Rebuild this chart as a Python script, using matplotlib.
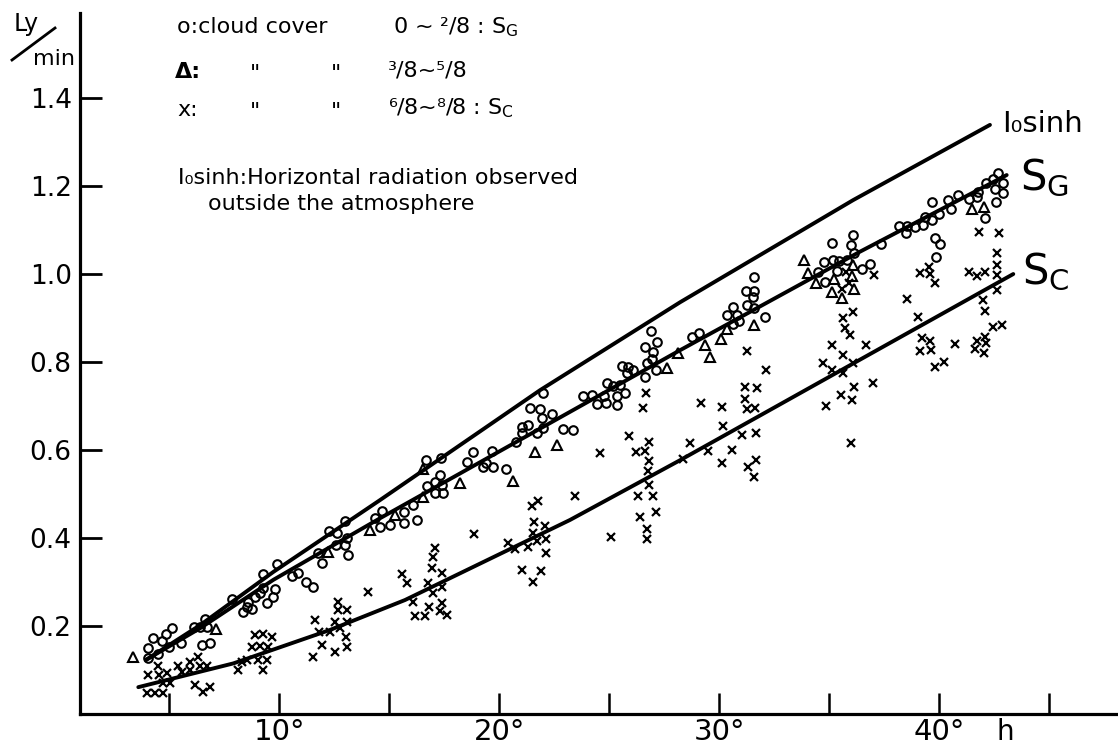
import matplotlib
matplotlib.use("Agg")
import matplotlib.pyplot as plt
from matplotlib.lines import Line2D

# solar altitude h (deg) / radiation (Ly/min)
# o : cloud cover 0 - 2/8
circles = [(4.02, 0.149), (4.25, 0.173), (4.65, 0.166), (4.84, 0.182), (5.11, 0.196), (4.05, 0.127),
           (4.5, 0.136), (4.99, 0.153), (5.53, 0.162), (6.14, 0.198), (6.4, 0.198), (6.62, 0.215),
           (6.73, 0.197), (6.47, 0.157), (6.85, 0.162), (7.84, 0.261), (8.36, 0.231), (8.52, 0.244),
           (8.75, 0.238), (8.59, 0.255), (8.9, 0.267), (9.12, 0.274), (9.27, 0.286), (9.43, 0.253),
           (9.73, 0.265), (9.8, 0.283), (9.27, 0.318), (9.91, 0.34), (10.56, 0.314), (10.86, 0.321),
           (11.21, 0.301), (11.55, 0.289), (11.77, 0.365), (11.93, 0.344), (12.27, 0.417), (12.64, 0.411),
           (12.99, 0.438), (12.58, 0.384), (12.99, 0.383), (13.14, 0.361), (13.06, 0.399), (14.35, 0.445),
           (14.65, 0.462), (14.58, 0.426), (15.03, 0.43),
           (15.67, 0.435), (15.67, 0.46), (16.09, 0.475), (16.27, 0.441), (16.65, 0.577), (17.35, 0.583),
           (16.7, 0.518), (17.08, 0.528), (17.3, 0.543), (17.38, 0.52), (17.08, 0.502), (17.45, 0.502),
           (18.52, 0.573), (18.79, 0.595), (19.25, 0.562), (19.4, 0.571), (19.68, 0.598), (19.73, 0.562),
           (20.3, 0.558), (20.76, 0.619), (21.02, 0.653), (21.32, 0.657), (21.02, 0.638), (21.4, 0.695),
           (21.85, 0.693), (21.93, 0.672), (22.38, 0.682), (21.7, 0.638), (22.0, 0.649), (21.97, 0.729),
           (22.88, 0.647), (23.36, 0.645), (23.82, 0.723), (24.2, 0.725), (24.43, 0.705), (24.76, 0.723),
           (24.88, 0.752), (24.85, 0.706), (25.18, 0.745), (25.49, 0.748), (25.34, 0.723), (25.71, 0.729),
           (25.36, 0.702), (25.56, 0.791), (25.86, 0.789), (26.09, 0.782), (25.79, 0.776), (26.88, 0.871),
           (27.15, 0.846), (26.62, 0.835), (27.0, 0.823), (26.7, 0.797), (26.93, 0.808), (27.12, 0.783),
           (26.62, 0.765),
           (28.75, 0.858), (29.09, 0.865), (30.36, 0.907), (30.64, 0.926), (30.82, 0.907), (30.91, 0.894),
           (30.61, 0.886), (31.25, 0.93), (31.21, 0.962), (31.58, 0.962), (31.55, 0.947), (31.58, 0.994),
           (31.58, 0.922), (32.08, 0.902), (35.11, 1.07), (34.76, 1.028), (35.15, 1.033), (35.45, 1.03),
           (35.79, 1.032), (36.06, 1.089), (35.97, 1.066), (36.12, 1.048), (35.34, 1.008), (36.47, 1.011),
           (36.85, 1.023), (37.34, 1.068), (34.5, 1.005), (34.8, 0.983), (38.18, 1.109), (38.52, 1.109),
           (38.49, 1.093),
           (38.9, 1.108), (39.27, 1.111), (39.35, 1.13), (39.65, 1.123), (39.65, 1.164), (40.0, 1.136),
           (40.41, 1.168), (40.52, 1.147), (40.86, 1.18), (41.36, 1.17), (41.7, 1.176), (41.77, 1.187),
           (42.12, 1.208), (42.45, 1.215), (42.53, 1.193), (42.68, 1.229), (42.88, 1.206), (42.91, 1.185),
           (42.58, 1.164), (42.08, 1.128), (39.8, 1.081), (40.03, 1.068), (39.85, 1.039)]

# triangles : cloud cover 3/8 - 5/8
triangles = [(3.37, 0.129), (7.12, 0.193), (12.23, 0.369), (14.12, 0.418), (15.26, 0.452), (16.55, 0.556),
             (16.55, 0.494), (18.21, 0.526), (20.64, 0.53), (21.62, 0.596), (22.61, 0.611), (27.61, 0.787),
             (28.14, 0.82), (29.35, 0.839), (29.58, 0.811), (30.06, 0.852), (30.34, 0.874), (31.58, 0.884),
             (33.85, 1.032), (34.05, 1.003), (34.4, 0.98), (35.21, 0.988), (35.11, 0.96), (35.56, 0.945),
             (36.06, 1.02), (36.02, 0.995), (36.12, 0.965), (41.47, 1.147), (42.03, 1.152)]

# x : cloud cover 6/8 - 8/8
crosses = [(4.05, 0.089), (4.5, 0.108), (4.55, 0.089), (4.88, 0.093), (5.03, 0.07), (4.73, 0.07),
           (3.97, 0.047), (4.35, 0.047), (4.73, 0.047), (5.41, 0.108), (5.56, 0.096), (5.94, 0.119),
           (5.94, 0.1), (6.32, 0.13), (6.4, 0.108), (6.7, 0.108), (6.17, 0.066), (6.55, 0.051),
           (6.85, 0.062), (8.14, 0.1), (8.29, 0.119), (8.52, 0.123), (8.9, 0.18), (9.27, 0.182),
           (9.65, 0.176), (8.75, 0.153), (9.12, 0.155), (9.5, 0.153), (9.05, 0.123), (9.43, 0.123),
           (9.27, 0.1), (11.55, 0.13), (11.93, 0.157), (11.62, 0.214), (11.82, 0.187), (12.3, 0.187),
           (12.53, 0.142), (12.53, 0.21), (12.68, 0.255), (12.68, 0.236), (13.06, 0.236), (13.06, 0.21),
           (12.76, 0.195), (13.03, 0.174), (13.06, 0.153), (14.05, 0.278),
           (15.56, 0.318), (15.79, 0.298), (16.77, 0.298), (17.0, 0.274), (17.38, 0.289), (16.93, 0.331),
           (17.38, 0.321), (17.0, 0.356), (17.08, 0.377), (18.85, 0.408), (20.41, 0.388), (20.71, 0.374),
           (21.32, 0.379), (21.02, 0.327), (21.52, 0.301), (21.88, 0.326), (21.47, 0.473), (21.77, 0.484),
           (21.58, 0.437), (21.55, 0.412), (22.08, 0.427), (21.7, 0.394), (22.12, 0.397), (22.12, 0.365),
           (23.44, 0.495), (24.58, 0.593), (25.06, 0.403), (25.91, 0.632), (26.21, 0.596), (26.62, 0.598),
           (26.82, 0.619), (26.82, 0.576), (26.77, 0.553), (26.82, 0.52), (26.32, 0.495), (26.97, 0.495),
           (27.12, 0.46), (26.4, 0.447), (26.7, 0.42), (26.7, 0.397), (26.67, 0.73), (26.52, 0.695),
           (16.09, 0.255), (16.82, 0.243), (17.38, 0.252), (17.3, 0.235), (17.61, 0.225), (16.17, 0.223),
           (16.62, 0.223),
           (28.36, 0.579), (28.67, 0.617), (29.15, 0.706), (29.5, 0.598), (30.11, 0.698), (30.15, 0.655),
           (30.11, 0.57), (30.56, 0.6), (31.02, 0.634), (31.17, 0.715), (31.25, 0.693), (31.17, 0.744),
           (31.7, 0.74), (31.62, 0.695), (31.67, 0.638), (31.32, 0.562), (31.67, 0.577), (31.58, 0.539),
           (31.27, 0.826), (32.12, 0.782), (34.85, 0.7), (35.52, 0.725), (36.02, 0.714), (36.12, 0.744),
           (35.97, 0.617), (36.97, 0.753), (34.73, 0.798), (35.11, 0.839), (35.64, 0.816), (36.09, 0.798),
           (35.64, 0.774), (35.11, 0.782), (35.71, 0.877), (35.94, 0.861), (35.64, 0.899), (36.06, 0.914),
           (36.67, 0.839), (35.56, 0.965), (35.91, 0.98), (35.76, 1.005), (37.03, 0.998), (38.52, 0.943),
           (39.13, 1.002), (39.55, 1.017), (39.58, 1.0), (39.81, 0.979), (39.04, 0.902), (41.82, 1.096),
           (42.73, 1.094), (42.64, 1.047), (42.64, 1.02), (42.64, 0.998), (42.61, 0.964), (41.36, 1.005),
           (41.73, 0.995), (42.08, 1.005), (42.0, 0.941), (42.08, 0.917), (42.43, 0.88), (42.84, 0.884),
           (39.2, 0.854), (39.58, 0.848), (39.13, 0.826), (39.61, 0.827), (40.71, 0.841), (41.7, 0.848),
           (42.08, 0.858), (41.62, 0.829), (42.03, 0.821), (42.12, 0.844), (39.81, 0.788), (40.19, 0.801)]

# drawn curves
isinh_h = [3.94, 6.4, 9.73, 14.57, 21.85, 28.22, 36.08, 42.3]
isinh_v = [0.123, 0.202, 0.323, 0.486, 0.736, 0.936, 1.168, 1.339]
sg_h = [3.94, 6.4, 9.73, 14.58, 21.4, 28.22, 36.4, 43.06]
sg_v = [0.123, 0.195, 0.305, 0.445, 0.636, 0.827, 1.051, 1.225]
sc_h = [3.59, 7.91, 12.3, 15.71, 23.21, 28.22, 38.67, 43.36]
sc_v = [0.061, 0.115, 0.191, 0.259, 0.441, 0.577, 0.869, 1.0]

yticks = [0.2, 0.4, 0.6, 0.8, 1.0, 1.2, 1.4]
ytick_labels = ["0.2", "0.4", "0.6", "0.8", "1.0", "1.2", "1.4"]
xticks = [5, 10, 15, 20, 25, 30, 35, 40, 45]
xtick_labels = ["", "10°", "", "20°", "", "30°", "", "40°", ""]

W, H = 1118, 749
narrow = ["Liberation Sans Narrow", "DejaVu Sans"]


def fpx(x, y):
    # pixel position -> figure fraction
    return x / W, 1 - y / H


fig = plt.figure(figsize=(W / 100, H / 100), dpi=100)
ax = fig.add_axes([80 / W, 1 - 714 / H, 1 - 80 / W, (714 - 12.7) / H])

ax.plot(isinh_h, isinh_v, "-k", lw=2.8, solid_capstyle="round")
ax.plot(sg_h, sg_v, "-k", lw=2.8, solid_capstyle="round")
ax.plot(sc_h, sc_v, "-k", lw=2.8, solid_capstyle="round")

cx, cy = zip(*circles)
tx, ty = zip(*triangles)
xx, xy = zip(*crosses)
ax.plot(cx, cy, "o", ls="none", mfc="none", mec="k", ms=6.2, mew=1.5)
ax.plot(tx, ty, "^", ls="none", mfc="none", mec="k", ms=6.8, mew=1.5)
ax.plot(xx, xy, "x", ls="none", color="k", ms=6.2, mew=1.6)

ax.set_xlim(0.94, 48.12)
ax.set_ylim(0, 1.594)
ax.spines["top"].set_visible(False)
ax.spines["right"].set_visible(False)
ax.spines["left"].set_linewidth(2.3)
ax.spines["bottom"].set_linewidth(2.3)

ax.set_yticks(yticks)
ax.set_yticklabels(ytick_labels, family=narrow, fontsize=19)
ax.set_xticks(xticks)
ax.set_xticklabels(xtick_labels, family=narrow, fontsize=21)
ax.tick_params(axis="y", direction="in", length=16, width=2, pad=6)
ax.tick_params(axis="x", direction="in", length=15, width=1.8, pad=3)

ax.text(43.0, -0.006, "h", transform=ax.get_xaxis_transform(), ha="center", va="top",
        family=narrow, fontsize=20)

# curve labels
ax.text(42.85, 1.323, "I₀sinh", fontsize=21, va="baseline", ha="left")
ax.text(43.68, 1.191, r"S$\mathregular{_G}$", fontsize=30, va="baseline", ha="left")
ax.text(43.77, 0.977, r"S$\mathregular{_C}$", fontsize=30, va="baseline", ha="left")

# unit label Ly/min
fig.text(*fpx(14, 24), "Ly", fontsize=17, va="center", ha="left")
fig.text(*fpx(33, 59), "min", fontsize=16, va="center", ha="left")
x0, y0 = fpx(12, 60)
x1, y1 = fpx(55, 28)
fig.add_artist(Line2D([x0, x1], [y0, y1], transform=fig.transFigure, color="k", lw=2))

# key
fs = 16
fig.text(*fpx(177, 27), "o:cloud cover", fontsize=fs, va="center")
fig.text(*fpx(393, 27), r"0 ~ ²/8 : S$\mathregular{_G}$", fontsize=fs, va="center")
fig.text(*fpx(175, 72), "Δ:", fontsize=fs, va="center", weight="bold")
fig.text(*fpx(250, 74), '"', fontsize=fs, va="center")
fig.text(*fpx(331, 74), '"', fontsize=fs, va="center")
fig.text(*fpx(388, 70), "³/8~⁵/8", fontsize=fs, va="center")
fig.text(*fpx(177, 110), "x:", fontsize=fs, va="center")
fig.text(*fpx(250, 112), '"', fontsize=fs, va="center")
fig.text(*fpx(331, 112), '"', fontsize=fs, va="center")
fig.text(*fpx(388, 108), r"⁶/8~⁸/8 : S$\mathregular{_C}$", fontsize=fs, va="center")
fig.text(*fpx(178, 178), "I₀sinh:Horizontal radiation observed", fontsize=fs, va="center")
fig.text(*fpx(208, 204), "outside the atmosphere", fontsize=fs, va="center")

fig.savefig("out.png", dpi=100)
